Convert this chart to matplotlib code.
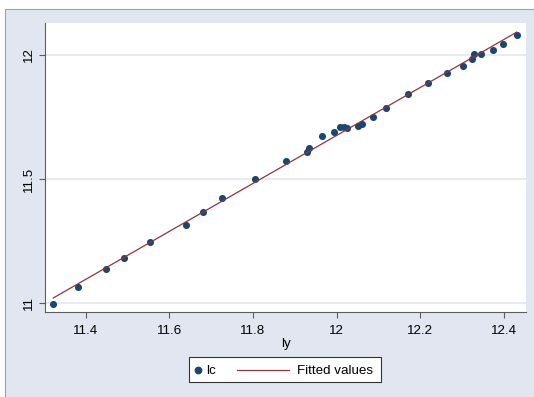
import matplotlib
matplotlib.use('Agg')
import matplotlib.pyplot as plt
import numpy as np
from matplotlib.lines import Line2D
from matplotlib.patches import Rectangle

plt.rcParams['font.family'] = ['Liberation Sans', 'DejaVu Sans']

# log income (ly) vs log consumption (lc)
ly = [11.3225, 11.3816, 11.4485, 11.4923, 11.5549, 11.6393, 11.6811, 11.7270,
      11.8040, 11.8781, 11.9283, 11.9338, 11.9642, 11.9936, 12.0079, 12.0175,
      12.0254, 12.0498, 12.0612, 12.0861, 12.1191, 12.1705, 12.2195, 12.2642,
      12.3025, 12.3228, 12.3290, 12.3443, 12.3730, 12.3971, 12.4306]
lc = [10.997, 11.0656, 11.1381, 11.1845, 11.2457, 11.3141, 11.3665, 11.4229,
      11.4994, 11.5739, 11.6106, 11.6255, 11.6738, 11.6899, 11.7088, 11.7112,
      11.7048, 11.7149, 11.7213, 11.7515, 11.7886, 11.8417, 11.8860, 11.9287,
      11.9565, 11.9847, 12.0048, 12.0032, 12.0209, 12.0435, 12.0793]

x_ticks = [11.4, 11.6, 11.8, 12.0, 12.2, 12.4]
x_tick_labels = ['11.4', '11.6', '11.8', '12', '12.2', '12.4']
y_ticks = [11.0, 11.5, 12.0]
y_tick_labels = ['11', '11.5', '12']

NAVY = '#1a476f'
MAROON = '#90353b'
BG = '#e1e6f0'
AXC = '#5c5c5c'
FS = 9.6

W, H = 534, 397
fig = plt.figure(figsize=(W / 100, H / 100), dpi=100)
fig.patch.set_facecolor('white')

# graph region background
fig.patches.append(Rectangle((5 / W, -0.1), 1.2, (H - 9) / H + 0.1,
                             transform=fig.transFigure, facecolor=BG,
                             edgecolor='#a0a0a8', lw=0.8, zorder=-10))

ax = fig.add_axes([45 / W, (H - 312) / H, (526 - 45) / W, (312 - 23) / H])
ax.set_facecolor('white')

ax.scatter(ly, lc, s=26, color=NAVY, linewidths=0, zorder=3)

# OLS fitted line over the range of ly
b1, b0 = np.polyfit(ly, lc, 1)
xs = np.array([min(ly), max(ly)])
ax.plot(xs, b0 + b1 * xs, color=MAROON, lw=0.9, zorder=4)

ax.set_xlim(11.3027, 12.4526)
ax.set_ylim(10.965, 12.129)

ax.yaxis.grid(True, color='#e3e7ee', lw=1.2)
ax.set_axisbelow(True)
for s in ['top', 'right']:
    ax.spines[s].set_visible(False)
for s in ['left', 'bottom']:
    ax.spines[s].set_color(AXC)
    ax.spines[s].set_linewidth(0.8)

ax.set_xticks(x_ticks)
ax.set_xticklabels(x_tick_labels)
ax.set_yticks(y_ticks)
ax.set_yticklabels(y_tick_labels, rotation=90, va='center')
ax.tick_params(axis='y', length=4.3, width=0.8, color=AXC, pad=3, labelsize=FS)
ax.tick_params(axis='x', length=4.0, width=0.8, color=AXC, pad=5, labelsize=FS)
ax.set_xlabel('ly', fontsize=FS, labelpad=1)

# legend box below the plot
ly0 = (H - 369.5) / H
fig.patches.append(Rectangle((189 / W, (H - 382) / H), 192 / W, 25 / H,
                             transform=fig.transFigure, facecolor='white',
                             edgecolor='#333333', lw=0.8, zorder=5))
fig.add_artist(Line2D([198 / W], [ly0], marker='o', ms=4.6, color=NAVY,
                      mec=NAVY, ls='none', transform=fig.transFigure, zorder=6))
fig.text(206 / W, ly0, 'lc', fontsize=FS, va='center_baseline', ha='left',
         zorder=6)
fig.add_artist(Line2D([237 / W, 289 / W], [ly0, ly0], color=MAROON, lw=0.9,
                      transform=fig.transFigure, zorder=6))
fig.text(297 / W, ly0, 'Fitted values', fontsize=FS, va='center_baseline',
         ha='left', zorder=6)

fig.savefig('out.png', dpi=100)
